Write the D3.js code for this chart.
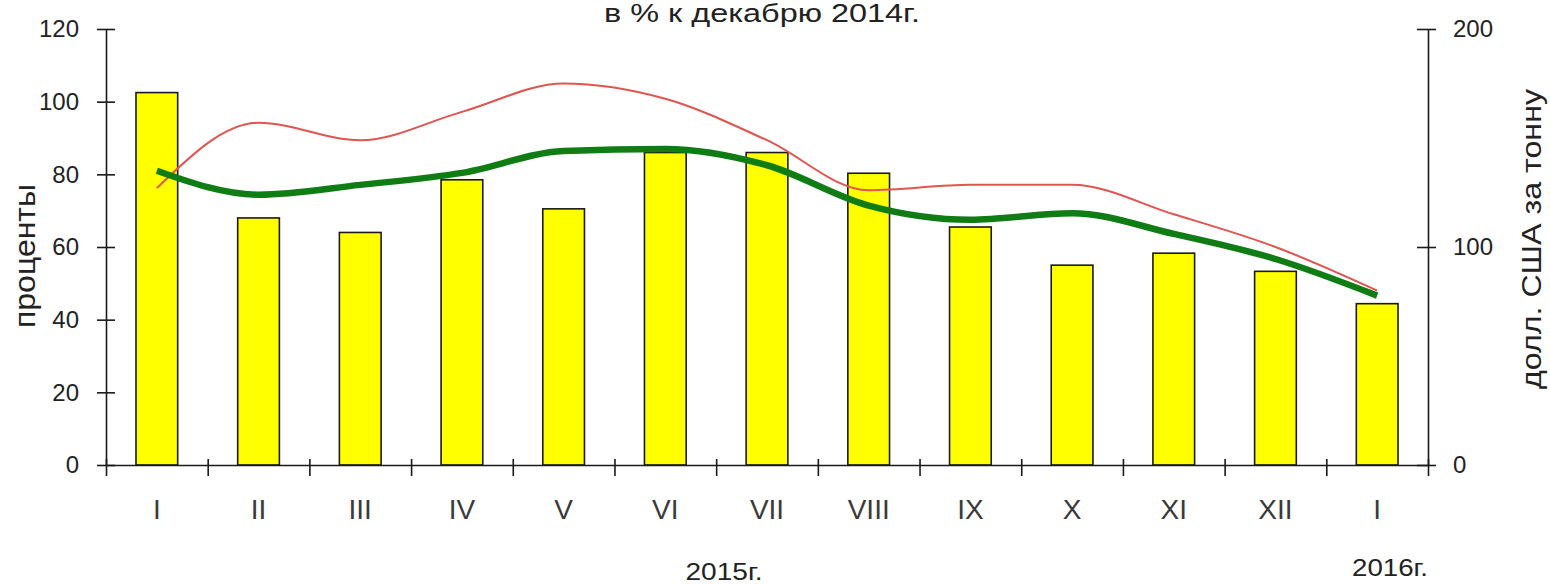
<!DOCTYPE html>
<html>
<head>
<meta charset="utf-8">
<script src="https://cdn.jsdelivr.net/npm/d3@7"></script>
<style>
  body { margin: 0; background: #fff; }
  svg text { font-family: "Liberation Sans", Arial, sans-serif; }
</style>
</head>
<body>
<div id="plot"></div>
<script>
// month labels (2015 I..XII, then January 2016)
const months = ["I", "II", "III", "IV", "V", "VI", "VII", "VIII", "IX", "X", "XI", "XII", "I"];
// bars, % of December 2014 (left axis)
const percentValues = [102.5, 68, 64, 78.5, 70.5, 86, 86, 80.3, 65.5, 55, 58.3, 53.3, 44.4];
// lines, USD per tonne (right axis)
const redValues = [127, 157, 149, 162, 175, 168, 149, 126, 128.5, 128.5, 115, 100, 80];
const greenValues = [135, 124, 128.5, 134, 144, 145, 137.5, 119, 112.5, 115.5, 106, 94.5, 77.7];
const leftTicks = [0, 20, 40, 60, 80, 100, 120];
const rightTicks = [0, 100, 200];

const W = 1550, H = 584;
const plotLeft = 106, plotRight = 1428, plotTop = 29, plotBottom = 465;

const svg = d3.select("#plot").append("svg")
    .attr("width", W)
    .attr("height", H);

// scales
const x = d3.scaleBand()
  .domain(d3.range(months.length))
  .range([plotLeft, plotRight])
  .paddingInner(0.59)
  .paddingOuter(0.295);

const xEdges = d3.scaleLinear()
  .domain([0, months.length])
  .range([plotLeft, plotRight]);

const yLeft = d3.scaleLinear().domain([0, 120]).range([plotBottom, plotTop]);
const yRight = d3.scaleLinear().domain([0, 200]).range([plotBottom, plotTop]);

// bars
svg.append("g")
  .selectAll("rect")
  .data(percentValues)
  .join("rect")
    .attr("x", (d, i) => x(i))
    .attr("y", d => yLeft(d))
    .attr("width", x.bandwidth())
    .attr("height", d => plotBottom - yLeft(d))
    .attr("fill", "#ffff00")
    .attr("stroke", "#1a1a1a")
    .attr("stroke-width", 1.6);

// lines
const cx = i => x(i) + x.bandwidth() / 2;

svg.append("path")
  .datum(redValues)
  .attr("fill", "none")
  .attr("stroke", "#e2544f")
  .attr("stroke-width", 2)
  .attr("d", d3.line().x((d, i) => cx(i)).y(d => yRight(d)).curve(d3.curveMonotoneX));

svg.append("path")
  .datum(greenValues)
  .attr("fill", "none")
  .attr("stroke", "#0f7d14")
  .attr("stroke-width", 6.5)
  .attr("stroke-linejoin", "round")
  .attr("d", d3.line().x((d, i) => cx(i)).y(d => yRight(d)).curve(d3.curveMonotoneX));

// axes
const leftAxis = svg.append("g")
  .attr("transform", `translate(${plotLeft},0)`)
  .call(d3.axisLeft(yLeft).tickValues(leftTicks).tickSize(0).tickPadding(27));
leftAxis.selectAll(".tick").append("line").attr("x1", -9).attr("x2", 9);

const rightAxis = svg.append("g")
  .attr("transform", `translate(${plotRight},0)`)
  .call(d3.axisRight(yRight).tickValues(rightTicks).tickSize(0).tickPadding(25));
rightAxis.selectAll(".tick").append("line").attr("x1", -11).attr("x2", 8);

const edgeAxis = svg.append("g")
  .attr("transform", `translate(0,${plotBottom})`)
  .call(d3.axisBottom(xEdges).ticks(months.length).tickSize(0).tickFormat(""));
edgeAxis.selectAll(".tick").append("line").attr("y1", -6).attr("y2", 11);

const labelAxis = svg.append("g")
  .attr("transform", `translate(0,${plotBottom})`)
  .call(d3.axisBottom(x).tickSize(0).tickFormat(i => months[i]));
labelAxis.select(".domain").remove();
labelAxis.selectAll("text")
  .attr("y", 54).attr("dy", 0)
  .style("font-size", "28px")
  .attr("fill", "#3a3a3a");

svg.selectAll(".domain").attr("stroke", "#1a1a1a").attr("stroke-width", 1.6);
svg.selectAll(".tick line").attr("stroke", "#1a1a1a").attr("stroke-width", 1.6);
leftAxis.selectAll("text").style("font-size", "24px").attr("fill", "#222");
rightAxis.selectAll("text").style("font-size", "24px").attr("fill", "#222");

// title and captions
svg.append("text")
  .attr("x", 762).attr("y", 22)
  .attr("text-anchor", "middle")
  .attr("textLength", 316).attr("lengthAdjust", "spacingAndGlyphs")
  .style("font-size", "25px").attr("fill", "#222")
  .text("в % к декабрю 2014г.");

svg.append("text")
  .attr("x", 724).attr("y", 580)
  .attr("text-anchor", "middle")
  .attr("textLength", 77).attr("lengthAdjust", "spacingAndGlyphs")
  .style("font-size", "24px").attr("fill", "#222")
  .text("2015г.");

svg.append("text")
  .attr("x", 1390).attr("y", 576)
  .attr("text-anchor", "middle")
  .attr("textLength", 76).attr("lengthAdjust", "spacingAndGlyphs")
  .style("font-size", "24px").attr("fill", "#222")
  .text("2016г.");

svg.append("text")
  .attr("transform", "translate(35,256) rotate(-90)")
  .attr("text-anchor", "middle")
  .attr("textLength", 144).attr("lengthAdjust", "spacingAndGlyphs")
  .style("font-size", "29px").attr("fill", "#222")
  .text("проценты");

svg.append("text")
  .attr("transform", "translate(1541,239) rotate(-90)")
  .attr("text-anchor", "middle")
  .attr("textLength", 300).attr("lengthAdjust", "spacingAndGlyphs")
  .style("font-size", "28px").attr("fill", "#222")
  .text("долл. США за тонну");
</script>
</body>
</html>
